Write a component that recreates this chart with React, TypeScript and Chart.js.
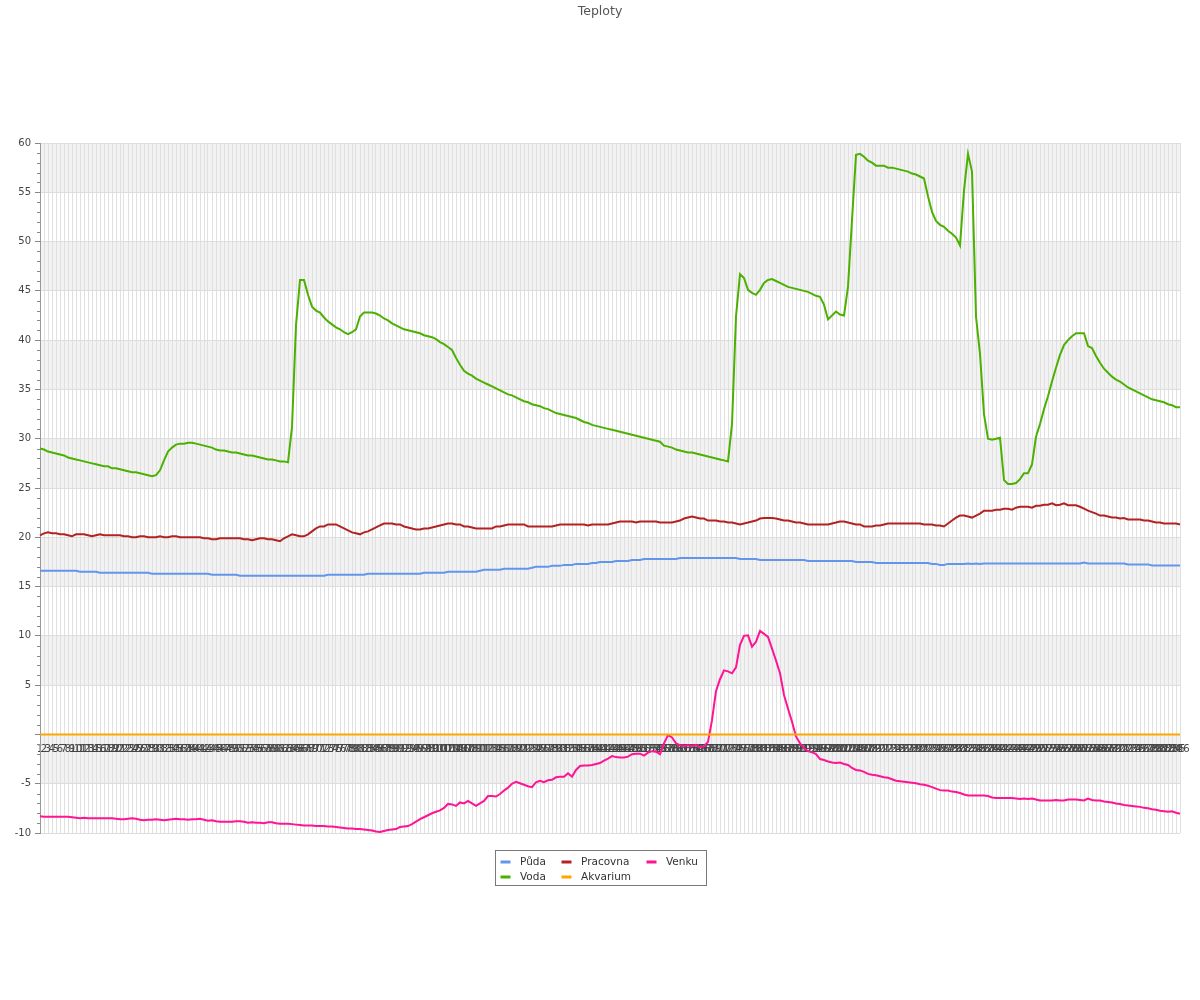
import React, { useEffect, useRef } from 'react';
import { Chart, registerables } from 'chart.js';

Chart.register(...registerables);
Chart.defaults.font.family = '"DejaVu Sans", sans-serif';

const categories = [
  1, 2, 3, 4, 5, 6, 7, 8, 9, 10, 11, 12, 13, 14, 15, 16, 17, 18, 19, 20,
  21, 22, 23, 24, 25, 26, 27, 28, 29, 30, 31, 32, 33, 34, 35, 36, 37, 38, 39, 40,
  41, 42, 43, 44, 45, 46, 47, 48, 49, 50, 51, 52, 53, 54, 55, 56, 57, 58, 59, 60,
  61, 62, 63, 64, 65, 66, 67, 68, 69, 70, 71, 72, 73, 74, 75, 76, 77, 78, 79, 80,
  81, 82, 83, 84, 85, 86, 87, 88, 89, 90, 91, 92, 93, 94, 95, 96, 97, 98, 99, 100,
  101, 102, 103, 104, 105, 106, 107, 108, 109, 110, 111, 112, 113, 114, 115, 116, 117, 118, 119, 120,
  121, 122, 123, 124, 125, 126, 127, 128, 129, 130, 131, 132, 133, 134, 135, 136, 137, 138, 139, 140,
  141, 142, 143, 144, 145, 146, 147, 148, 149, 150, 151, 152, 153, 154, 155, 156, 157, 158, 159, 160,
  161, 162, 163, 164, 165, 166, 167, 168, 169, 170, 171, 172, 173, 174, 175, 176, 177, 178, 179, 180,
  181, 182, 183, 184, 185, 186, 187, 188, 189, 190, 191, 192, 193, 194, 195, 196, 197, 198, 199, 200,
  201, 202, 203, 204, 205, 206, 207, 208, 209, 210, 211, 212, 213, 214, 215, 216, 217, 218, 219, 220,
  221, 222, 223, 224, 225, 226, 227, 228, 229, 230, 231, 232, 233, 234, 235, 236, 237, 238, 239, 240,
  241, 242, 243, 244, 245, 246, 247, 248, 249, 250, 251, 252, 253, 254, 255, 256, 257, 258, 259, 260,
  261, 262, 263, 264, 265, 266, 267, 268, 269, 270, 271, 272, 273, 274, 275, 276, 277, 278, 279, 280,
  281, 282, 283, 284, 285, 286,
];

const puda = [
  16.6, 16.6, 16.6, 16.6, 16.6, 16.6, 16.6, 16.6, 16.6, 16.6,
  16.5, 16.5, 16.5, 16.5, 16.5, 16.4, 16.4, 16.4, 16.4, 16.4,
  16.4, 16.4, 16.4, 16.4, 16.4, 16.4, 16.4, 16.4, 16.3, 16.3,
  16.3, 16.3, 16.3, 16.3, 16.3, 16.3, 16.3, 16.3, 16.3, 16.3,
  16.3, 16.3, 16.3, 16.2, 16.2, 16.2, 16.2, 16.2, 16.2, 16.2,
  16.1, 16.1, 16.1, 16.1, 16.1, 16.1, 16.1, 16.1, 16.1, 16.1,
  16.1, 16.1, 16.1, 16.1, 16.1, 16.1, 16.1, 16.1, 16.1, 16.1,
  16.1, 16.1, 16.2, 16.2, 16.2, 16.2, 16.2, 16.2, 16.2, 16.2,
  16.2, 16.2, 16.3, 16.3, 16.3, 16.3, 16.3, 16.3, 16.3, 16.3,
  16.3, 16.3, 16.3, 16.3, 16.3, 16.3, 16.4, 16.4, 16.4, 16.4,
  16.4, 16.4, 16.5, 16.5, 16.5, 16.5, 16.5, 16.5, 16.5, 16.5,
  16.6, 16.7, 16.7, 16.7, 16.7, 16.7, 16.8, 16.8, 16.8, 16.8,
  16.8, 16.8, 16.8, 16.9, 17.0, 17.0, 17.0, 17.0, 17.1, 17.1,
  17.1, 17.2, 17.2, 17.2, 17.3, 17.3, 17.3, 17.3, 17.4, 17.4,
  17.5, 17.5, 17.5, 17.5, 17.6, 17.6, 17.6, 17.6, 17.7, 17.7,
  17.7, 17.8, 17.8, 17.8, 17.8, 17.8, 17.8, 17.8, 17.8, 17.8,
  17.9, 17.9, 17.9, 17.9, 17.9, 17.9, 17.9, 17.9, 17.9, 17.9,
  17.9, 17.9, 17.9, 17.9, 17.9, 17.8, 17.8, 17.8, 17.8, 17.8,
  17.7, 17.7, 17.7, 17.7, 17.7, 17.7, 17.7, 17.7, 17.7, 17.7,
  17.7, 17.7, 17.6, 17.6, 17.6, 17.6, 17.6, 17.6, 17.6, 17.6,
  17.6, 17.6, 17.6, 17.6, 17.5, 17.5, 17.5, 17.5, 17.5, 17.4,
  17.4, 17.4, 17.4, 17.4, 17.4, 17.4, 17.4, 17.4, 17.4, 17.4,
  17.4, 17.4, 17.4, 17.3, 17.3, 17.2, 17.2, 17.3, 17.3, 17.3,
  17.3, 17.3, 17.35, 17.3, 17.35, 17.3, 17.35, 17.35, 17.35, 17.35,
  17.35, 17.35, 17.35, 17.35, 17.35, 17.35, 17.35, 17.35, 17.35, 17.35,
  17.35, 17.35, 17.35, 17.35, 17.35, 17.35, 17.35, 17.35, 17.35, 17.35,
  17.35, 17.45, 17.35, 17.35, 17.35, 17.35, 17.35, 17.35, 17.35, 17.35,
  17.35, 17.35, 17.25, 17.25, 17.25, 17.25, 17.25, 17.25, 17.15, 17.15,
  17.15, 17.15, 17.15, 17.15, 17.15, 17.15,
];

const voda = [
  29.0, 28.9, 28.7, 28.6, 28.5, 28.4, 28.3, 28.1, 28.0, 27.9,
  27.8, 27.7, 27.6, 27.5, 27.4, 27.3, 27.2, 27.2, 27.0, 27.0,
  26.9, 26.8, 26.7, 26.6, 26.6, 26.5, 26.4, 26.3, 26.2, 26.3,
  26.8, 27.8, 28.7, 29.1, 29.4, 29.5, 29.5, 29.6, 29.6, 29.5,
  29.4, 29.3, 29.2, 29.1, 28.9, 28.8, 28.8, 28.7, 28.6, 28.6,
  28.5, 28.4, 28.3, 28.3, 28.2, 28.1, 28.0, 27.9, 27.9, 27.8,
  27.7, 27.7, 27.6, 31.2, 41.5, 46.1, 46.1, 44.6, 43.4, 43.0,
  42.8, 42.3, 41.9, 41.6, 41.3, 41.1, 40.8, 40.6, 40.8, 41.1,
  42.4, 42.8, 42.8, 42.8, 42.7, 42.5, 42.2, 42.0, 41.7, 41.5,
  41.3, 41.1, 41.0, 40.9, 40.8, 40.7, 40.5, 40.4, 40.3, 40.1,
  39.8, 39.6, 39.3, 39.0, 38.2, 37.5, 36.9, 36.6, 36.4, 36.1,
  35.9, 35.7, 35.5, 35.3, 35.1, 34.9, 34.7, 34.5, 34.4, 34.2,
  34.0, 33.8, 33.7, 33.5, 33.4, 33.3, 33.1, 33.0, 32.8, 32.6,
  32.5, 32.4, 32.3, 32.2, 32.1, 31.9, 31.7, 31.6, 31.4, 31.3,
  31.2, 31.1, 31.0, 30.9, 30.8, 30.7, 30.6, 30.5, 30.4, 30.3,
  30.2, 30.1, 30.0, 29.9, 29.8, 29.7, 29.3, 29.2, 29.1, 28.9,
  28.8, 28.7, 28.6, 28.6, 28.5, 28.4, 28.3, 28.2, 28.1, 28.0,
  27.9, 27.8, 27.7, 31.5, 42.4, 46.7, 46.3, 45.1, 44.8, 44.6,
  45.1, 45.8, 46.1, 46.2, 46.0, 45.8, 45.6, 45.4, 45.3, 45.2,
  45.1, 45.0, 44.9, 44.7, 44.5, 44.4, 43.6, 42.1, 42.5, 42.9,
  42.6, 42.5, 45.4, 52.2, 58.8, 58.9, 58.6, 58.2, 58.0, 57.7,
  57.7, 57.7, 57.5, 57.5, 57.4, 57.3, 57.2, 57.1, 56.9, 56.8,
  56.6, 56.4, 54.6, 53.0, 52.1, 51.7, 51.5, 51.1, 50.8, 50.4,
  49.6, 55.2, 58.9, 57.1, 42.4, 38.6, 32.5, 30.0, 29.9, 30.0,
  30.1, 25.8, 25.4, 25.4, 25.5, 25.9, 26.5, 26.5, 27.4, 30.2,
  31.5, 33.0, 34.3, 35.8, 37.2, 38.5, 39.5, 40.0, 40.4, 40.7,
  40.7, 40.7, 39.4, 39.2, 38.4, 37.7, 37.1, 36.7, 36.3, 36.0,
  35.8, 35.5, 35.2, 35.0, 34.8, 34.6, 34.4, 34.2, 34.0, 33.9,
  33.8, 33.7, 33.5, 33.4, 33.2, 33.2,
];

const pracovna = [
  20.2, 20.4, 20.5, 20.4, 20.4, 20.3, 20.3, 20.2, 20.1, 20.3,
  20.3, 20.3, 20.2, 20.1, 20.2, 20.3, 20.2, 20.2, 20.2, 20.2,
  20.2, 20.1, 20.1, 20.0, 20.0, 20.1, 20.1, 20.0, 20.0, 20.0,
  20.1, 20.0, 20.0, 20.1, 20.1, 20.0, 20.0, 20.0, 20.0, 20.0,
  20.0, 19.9, 19.9, 19.8, 19.8, 19.9, 19.9, 19.9, 19.9, 19.9,
  19.9, 19.8, 19.8, 19.7, 19.8, 19.9, 19.9, 19.8, 19.8, 19.7,
  19.6, 19.9, 20.1, 20.3, 20.2, 20.1, 20.1, 20.3, 20.6, 20.9,
  21.1, 21.1, 21.3, 21.3, 21.3, 21.1, 20.9, 20.7, 20.5, 20.4,
  20.3, 20.5, 20.6, 20.8, 21.0, 21.2, 21.4, 21.4, 21.4, 21.3,
  21.3, 21.1, 21.0, 20.9, 20.8, 20.8, 20.9, 20.9, 21.0, 21.1,
  21.2, 21.3, 21.4, 21.4, 21.3, 21.3, 21.1, 21.1, 21.0, 20.9,
  20.9, 20.9, 20.9, 20.9, 21.1, 21.1, 21.2, 21.3, 21.3, 21.3,
  21.3, 21.3, 21.1, 21.1, 21.1, 21.1, 21.1, 21.1, 21.1, 21.2,
  21.3, 21.3, 21.3, 21.3, 21.3, 21.3, 21.3, 21.2, 21.3, 21.3,
  21.3, 21.3, 21.3, 21.4, 21.5, 21.6, 21.6, 21.6, 21.6, 21.5,
  21.6, 21.6, 21.6, 21.6, 21.6, 21.5, 21.5, 21.5, 21.5, 21.6,
  21.7, 21.9, 22.0, 22.1, 22.0, 21.9, 21.9, 21.7, 21.7, 21.7,
  21.6, 21.6, 21.5, 21.5, 21.4, 21.3, 21.4, 21.5, 21.6, 21.7,
  21.9, 21.95, 21.95, 21.95, 21.9, 21.8, 21.7, 21.7, 21.6, 21.5,
  21.5, 21.4, 21.3, 21.3, 21.3, 21.3, 21.3, 21.3, 21.4, 21.5,
  21.6, 21.6, 21.5, 21.4, 21.3, 21.3, 21.1, 21.1, 21.1, 21.2,
  21.2, 21.3, 21.4, 21.4, 21.4, 21.4, 21.4, 21.4, 21.4, 21.4,
  21.4, 21.3, 21.3, 21.3, 21.2, 21.2, 21.1, 21.4, 21.7, 22.0,
  22.2, 22.2, 22.1, 22.0, 22.2, 22.4, 22.7, 22.7, 22.7, 22.8,
  22.8, 22.9, 22.9, 22.8, 23.0, 23.1, 23.1, 23.1, 23.0, 23.2,
  23.2, 23.3, 23.3, 23.45, 23.25, 23.3, 23.45, 23.25, 23.25, 23.25,
  23.1, 22.9, 22.7, 22.55, 22.4, 22.2, 22.2, 22.1, 22.0, 22.0,
  21.9, 21.95, 21.8, 21.8, 21.8, 21.8, 21.7, 21.7, 21.6, 21.5,
  21.5, 21.4, 21.4, 21.4, 21.4, 21.3,
];

const akvarium = [
  0, 0, 0, 0, 0, 0, 0, 0, 0, 0, 0, 0, 0, 0, 0, 0, 0, 0, 0, 0,
  0, 0, 0, 0, 0, 0, 0, 0, 0, 0, 0, 0, 0, 0, 0, 0, 0, 0, 0, 0,
  0, 0, 0, 0, 0, 0, 0, 0, 0, 0, 0, 0, 0, 0, 0, 0, 0, 0, 0, 0,
  0, 0, 0, 0, 0, 0, 0, 0, 0, 0, 0, 0, 0, 0, 0, 0, 0, 0, 0, 0,
  0, 0, 0, 0, 0, 0, 0, 0, 0, 0, 0, 0, 0, 0, 0, 0, 0, 0, 0, 0,
  0, 0, 0, 0, 0, 0, 0, 0, 0, 0, 0, 0, 0, 0, 0, 0, 0, 0, 0, 0,
  0, 0, 0, 0, 0, 0, 0, 0, 0, 0, 0, 0, 0, 0, 0, 0, 0, 0, 0, 0,
  0, 0, 0, 0, 0, 0, 0, 0, 0, 0, 0, 0, 0, 0, 0, 0, 0, 0, 0, 0,
  0, 0, 0, 0, 0, 0, 0, 0, 0, 0, 0, 0, 0, 0, 0, 0, 0, 0, 0, 0,
  0, 0, 0, 0, 0, 0, 0, 0, 0, 0, 0, 0, 0, 0, 0, 0, 0, 0, 0, 0,
  0, 0, 0, 0, 0, 0, 0, 0, 0, 0, 0, 0, 0, 0, 0, 0, 0, 0, 0, 0,
  0, 0, 0, 0, 0, 0, 0, 0, 0, 0, 0, 0, 0, 0, 0, 0, 0, 0, 0, 0,
  0, 0, 0, 0, 0, 0, 0, 0, 0, 0, 0, 0, 0, 0, 0, 0, 0, 0, 0, 0,
  0, 0, 0, 0, 0, 0, 0, 0, 0, 0, 0, 0, 0, 0, 0, 0, 0, 0, 0, 0,
  0, 0, 0, 0, 0, 0,
];

const venku = [
  -8.3, -8.35, -8.35, -8.35, -8.35, -8.35, -8.35, -8.35, -8.4, -8.45,
  -8.5, -8.45, -8.5, -8.5, -8.5, -8.5, -8.5, -8.5, -8.5, -8.55,
  -8.6, -8.6, -8.55, -8.5, -8.55, -8.65, -8.7, -8.65, -8.65, -8.6,
  -8.65, -8.7, -8.65, -8.6, -8.55, -8.6, -8.6, -8.65, -8.6, -8.6,
  -8.55, -8.65, -8.75, -8.7, -8.8, -8.85, -8.85, -8.85, -8.85, -8.8,
  -8.8, -8.85, -8.95, -8.9, -8.95, -8.95, -9.0, -8.9, -8.9, -9.0,
  -9.05, -9.05, -9.05, -9.1, -9.15, -9.2, -9.25, -9.25, -9.25, -9.3,
  -9.3, -9.3, -9.35, -9.35, -9.4, -9.45, -9.5, -9.55, -9.55, -9.6,
  -9.6, -9.65, -9.7, -9.75, -9.85, -9.9, -9.8, -9.7, -9.65, -9.6,
  -9.4, -9.35, -9.3, -9.1, -8.85, -8.6, -8.4, -8.2, -8.0, -7.85,
  -7.7, -7.45, -7.05, -7.1, -7.25, -6.9, -7.0, -6.75, -7.0, -7.25,
  -7.0, -6.75, -6.25, -6.25, -6.3, -6.05, -5.7, -5.4, -5.0, -4.8,
  -4.95, -5.1, -5.25, -5.35, -4.85, -4.7, -4.85, -4.65, -4.6, -4.35,
  -4.3, -4.3, -3.95, -4.3, -3.6, -3.2, -3.15, -3.15, -3.1, -3.0,
  -2.9, -2.65, -2.45, -2.2, -2.3, -2.35, -2.35, -2.25, -2.0, -1.95,
  -1.95, -2.15, -1.85, -1.7, -1.75, -2.0, -0.9, -0.07, -0.3, -0.9,
  -1.1, -1.15, -1.1, -1.15, -1.05, -1.3, -1.2, -0.75, 1.45, 4.4,
  5.6, 6.5, 6.4, 6.2, 6.8, 9.1, 10.0, 10.05, 8.9, 9.4,
  10.5, 10.2, 9.9, 8.7, 7.5, 6.2, 4.0, 2.6, 1.3, -0.2,
  -0.9, -1.4, -1.7, -1.8, -2.0, -2.5, -2.6, -2.75, -2.85, -2.9,
  -2.85, -3.0, -3.1, -3.4, -3.6, -3.65, -3.8, -4.0, -4.1, -4.15,
  -4.25, -4.35, -4.4, -4.55, -4.7, -4.75, -4.8, -4.85, -4.9, -4.95,
  -5.05, -5.1, -5.2, -5.35, -5.5, -5.65, -5.7, -5.7, -5.8, -5.85,
  -5.95, -6.1, -6.2, -6.2, -6.2, -6.2, -6.2, -6.25, -6.4, -6.45,
  -6.45, -6.45, -6.45, -6.45, -6.5, -6.55, -6.5, -6.55, -6.5, -6.6,
  -6.7, -6.7, -6.7, -6.7, -6.65, -6.7, -6.7, -6.6, -6.6, -6.6,
  -6.65, -6.7, -6.5, -6.65, -6.7, -6.7, -6.8, -6.85, -6.9, -7.0,
  -7.05, -7.15, -7.2, -7.25, -7.3, -7.35, -7.45, -7.5, -7.6, -7.65,
  -7.75, -7.8, -7.85, -7.8, -7.95, -8.05,
];

const yTickLabels = [60, 55, 50, 45, 40, 35, 30, 25, 20, 15, 10, 5, -5, -10];
const shadedBands = [[55, 60], [45, 50], [35, 40], [25, 30], [15, 20], [5, 10], [-5, 0]];

const bandPlugin = {
  id: 'bands',
  beforeDraw(chart: any) {
    const { ctx, chartArea: a, scales } = chart;
    const y = scales.y;
    ctx.save();
    ctx.fillStyle = '#ffffff';
    ctx.fillRect(0, 0, chart.width, chart.height);
    ctx.fillStyle = '#f2f2f2';
    for (const [lo, hi] of shadedBands) {
      const t = y.getPixelForValue(hi);
      const b = y.getPixelForValue(lo);
      ctx.fillRect(a.left, t, a.right - a.left, b - t);
    }
    ctx.restore();
  },
  afterDraw(chart: any) {
    // short minor tick marks on the y axis
    const { ctx, chartArea: a, scales } = chart;
    const y = scales.y;
    ctx.save();
    ctx.strokeStyle = '#888888';
    ctx.lineWidth = 1;
    ctx.beginPath();
    y.ticks.forEach((t: any) => {
      if (t.value % 5 !== 0) {
        const py = Math.round(y.getPixelForValue(t.value)) + 0.5;
        ctx.moveTo(a.left - 3, py);
        ctx.lineTo(a.left, py);
      }
    });
    ctx.stroke();
    ctx.restore();
  },
};

const legendPlugin = {
  id: 'boxLegend',
  afterDraw(chart: any) {
    const ctx = chart.ctx;
    const left = 495.5;
    const top = 850.5;
    const w = 211;
    const h = 35;
    const colX = [5, 66, 151];
    const rowY = [11.5, 26.5];
    ctx.save();
    ctx.strokeStyle = '#7a7a7a';
    ctx.lineWidth = 1;
    ctx.strokeRect(left, top, w, h);
    ctx.font = '10.5px "DejaVu Sans", sans-serif';
    ctx.textBaseline = 'middle';
    ctx.textAlign = 'left';
    chart.data.datasets.forEach((ds: any, k: number) => {
      const col = Math.floor(k / 2);
      const row = k % 2;
      const x = left + colX[col];
      const yy = top + rowY[row];
      ctx.strokeStyle = ds.borderColor;
      ctx.lineWidth = 3;
      ctx.beginPath();
      ctx.moveTo(x, yy);
      ctx.lineTo(x + 10, yy);
      ctx.stroke();
      ctx.fillStyle = '#333333';
      ctx.fillText(ds.label, x + 19.5, yy);
    });
    ctx.restore();
  },
};

export default function App() {
  const ref = useRef<HTMLCanvasElement | null>(null);

  useEffect(() => {
    if (!ref.current) return;
    const chart = new Chart(ref.current, {
      type: 'line',
      data: {
        labels: categories,
        datasets: [
          { label: 'Půda', data: puda, borderColor: '#6495ed', backgroundColor: '#6495ed' },
          { label: 'Voda', data: voda, borderColor: '#4cb000', backgroundColor: '#4cb000' },
          { label: 'Pracovna', data: pracovna, borderColor: '#b22222', backgroundColor: '#b22222' },
          { label: 'Akvarium', data: akvarium, borderColor: '#ffa500', backgroundColor: '#ffa500' },
          { label: 'Venku', data: venku, borderColor: '#ff1493', backgroundColor: '#ff1493' },
        ],
      },
      options: {
        responsive: false,
        animation: false,
        layout: { padding: { left: 0, right: 0, top: 0, bottom: 167 } },
        elements: {
          point: { radius: 0, hoverRadius: 0 },
          line: { borderWidth: 2, tension: 0 },
        },
        plugins: {
          legend: { display: false },
          tooltip: { enabled: false },
          title: {
            display: true,
            text: 'Teploty',
            color: '#555555',
            font: { size: 12.5, weight: 'normal' },
            padding: { top: 4, bottom: 124 },
          },
        },
        scales: {
          x: {
            type: 'category',
            axis: 'x',
            position: { y: 0 },
            offset: false,
            grid: { color: '#e0e0e0', drawTicks: true, tickLength: 9, tickColor: 'rgba(0,0,0,0)' },
            border: { display: false },
            ticks: {
              autoSkip: false,
              maxRotation: 0,
              minRotation: 0,
              color: '#444444',
              font: { size: 10 },
              padding: 0,
            },
          },
          y: {
            type: 'linear',
            position: 'left',
            min: -10,
            max: 60,
            afterFit: (s: any) => {
              s.width = 40;
            },
            grid: {
              color: (c: any) => (c.tick && c.tick.value % 5 === 0 ? '#dddddd' : 'rgba(0,0,0,0)'),
              tickColor: (c: any) => (c.tick && c.tick.value % 5 === 0 ? '#888888' : 'rgba(0,0,0,0)'),
              tickLength: 5,
            },
            border: { display: true, color: '#999999' },
            ticks: {
              stepSize: 1,
              autoSkip: false,
              padding: 4,
              color: '#444444',
              font: { size: 10 },
              callback: (v: any) => (yTickLabels.includes(Number(v)) ? String(v) : ''),
            },
          },
          yRightSpace: {
            type: 'linear',
            position: 'right',
            min: -10,
            max: 60,
            display: true,
            afterFit: (s: any) => {
              s.width = 20;
            },
            grid: { display: false, drawOnChartArea: false },
            border: { display: false },
            ticks: { display: false },
          },
        },
      } as any,
      plugins: [bandPlugin, legendPlugin],
    });
    return () => chart.destroy();
  }, []);

  return (
    <div style={{ position: 'absolute', left: 0, top: 0, width: 1200, height: 1000 }}>
      <canvas ref={ref} width={1200} height={1000} style={{ display: 'block' }} />
    </div>
  );
}
